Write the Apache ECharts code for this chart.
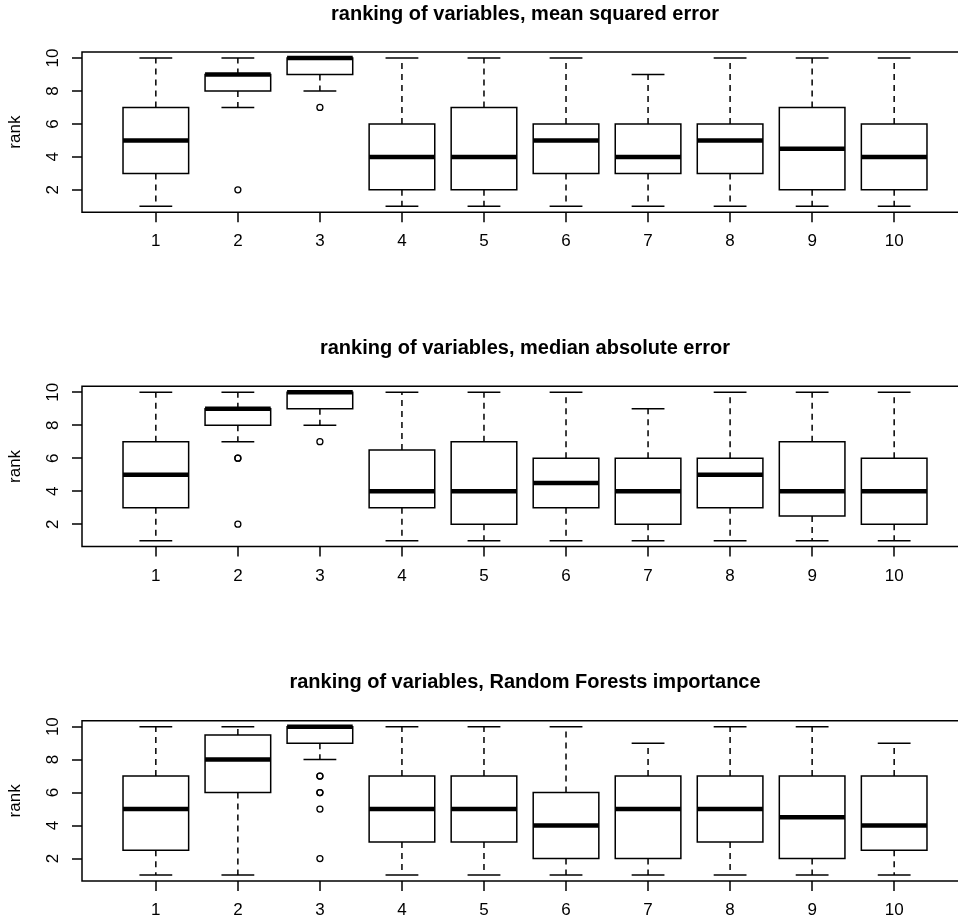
<!DOCTYPE html>
<html>
<head>
<meta charset="utf-8">
<script src="https://cdn.jsdelivr.net/npm/echarts@6/dist/echarts.min.js"></script>
<style>
html,body{margin:0;padding:0;background:#fff;}
#chart{width:958px;height:920px;}
</style>
</head>
<body>
<div id="chart"></div>
<script>
// ---- data ----
const categories = [1, 2, 3, 4, 5, 6, 7, 8, 9, 10];
const yTicks = [2, 4, 6, 8, 10];
const titles = [
  'ranking of variables, mean squared error',
  'ranking of variables, median absolute error',
  'ranking of variables, Random Forests importance'
];
// [min, q1, median, q3, max] for each variable
const mseStats = [
  [1, 3, 5, 7, 10], [7, 8, 9, 9, 10], [8, 9, 10, 10, 10], [1, 2, 4, 6, 10], [1, 2, 4, 7, 10],
  [1, 3, 5, 6, 10], [1, 3, 4, 6, 9], [1, 3, 5, 6, 10], [1, 2, 4.5, 7, 10], [1, 2, 4, 6, 10]
];
const mseOutliers = [[2, 2], [3, 7]];
const madStats = [
  [1, 3, 5, 7, 10], [7, 8, 9, 9, 10], [8, 9, 10, 10, 10], [1, 3, 4, 6.5, 10], [1, 2, 4, 7, 10],
  [1, 3, 4.5, 6, 10], [1, 2, 4, 6, 9], [1, 3, 5, 6, 10], [1, 2.5, 4, 7, 10], [1, 2, 4, 6, 10]
];
const madOutliers = [[2, 6], [2, 6], [2, 2], [3, 7]];
const rfStats = [
  [1, 2.5, 5, 7, 10], [1, 6, 8, 9.5, 10], [8, 9, 10, 10, 10], [1, 3, 5, 7, 10], [1, 3, 5, 7, 10],
  [1, 2, 4, 6, 10], [1, 2, 5, 7, 9], [1, 3, 5, 7, 10], [1, 2, 4.5, 7, 10], [1, 2.5, 4, 7, 9]
];
const rfOutliers = [[3, 7], [3, 7], [3, 6], [3, 6], [3, 5], [3, 2]];

const panels = [
  { stats: mseStats, outliers: mseOutliers },
  { stats: madStats, outliers: madOutliers },
  { stats: rfStats, outliers: rfOutliers }
];

// ---- layout ----
const FONT = 'Liberation Sans, Arial, Helvetica, sans-serif';
const gridTops = [52, 386.3, 720.7];
const gridH = 160.3;
const titleTops = [4, 338, 672];
const BOX_HALF = 0.4, CAP_HALF = 0.2;

function renderBox(params, api) {
  const x = api.value(0);
  const mn = api.value(1), q1 = api.value(2), md = api.value(3), q3 = api.value(4), mx = api.value(5);
  const L = api.coord([x - BOX_HALF, q1])[0];
  const R = api.coord([x + BOX_HALF, q1])[0];
  const cL = api.coord([x - CAP_HALF, q1])[0];
  const cR = api.coord([x + CAP_HALF, q1])[0];
  const cx = api.coord([x, q1])[0];
  const yMin = api.coord([x, mn])[1];
  const yQ1 = api.coord([x, q1])[1];
  const yMd = api.coord([x, md])[1];
  const yQ3 = api.coord([x, q3])[1];
  const yMax = api.coord([x, mx])[1];
  const line = { stroke: '#000', lineWidth: 1.5 };
  const dash = { stroke: '#000', lineWidth: 1.5, lineDash: [6, 5] };
  const children = [];
  if (mx > q3) children.push({ type: 'line', shape: { x1: cx, y1: yQ3, x2: cx, y2: yMax }, style: dash });
  if (mn < q1) children.push({ type: 'line', shape: { x1: cx, y1: yQ1, x2: cx, y2: yMin }, style: dash });
  children.push({ type: 'line', shape: { x1: cL, y1: yMax, x2: cR, y2: yMax }, style: line });
  children.push({ type: 'line', shape: { x1: cL, y1: yMin, x2: cR, y2: yMin }, style: line });
  children.push({ type: 'rect', shape: { x: L, y: yQ3, width: R - L, height: yQ1 - yQ3 }, style: { fill: '#fff', stroke: '#000', lineWidth: 1.5 } });
  children.push({ type: 'line', shape: { x1: L, y1: yMd, x2: R, y2: yMd }, style: { stroke: '#000', lineWidth: 4.5 } });
  return { type: 'group', children };
}

const grid = [], xAxis = [], yAxis = [], series = [], title = [];
panels.forEach((p, i) => {
  title.push({
    text: titles[i], left: 525, top: titleTops[i], textAlign: 'center', padding: 0,
    textStyle: { fontFamily: FONT, fontSize: 20, fontWeight: 'bold', color: '#000' }
  });
  grid.push({
    left: 82, top: gridTops[i], width: 886, height: gridH,
    outerBoundsMode: 'none', containLabel: false,
    show: true, borderColor: '#000', borderWidth: 1.5, backgroundColor: 'transparent'
  });
  xAxis.push({
    type: 'value', gridIndex: i, min: 0.1, max: 10.9,
    axisLine: { show: false },
    splitLine: { show: false },
    axisTick: { show: true, length: 10, lineStyle: { color: '#000', width: 1.5 }, customValues: categories },
    axisLabel: { show: true, margin: 21, fontSize: 17, fontFamily: FONT, color: '#000', customValues: categories }
  });
  yAxis.push({
    type: 'value', gridIndex: i, min: 0.64, max: 10.36,
    name: 'rank', nameLocation: 'middle', nameGap: 58, nameRotate: 90,
    nameTextStyle: { fontFamily: FONT, fontSize: 17, color: '#000' },
    axisLine: { show: false },
    splitLine: { show: false },
    axisTick: { show: true, length: 10, lineStyle: { color: '#000', width: 1.5 }, customValues: yTicks },
    axisLabel: { show: true, rotate: 90, margin: 20, fontSize: 17, fontFamily: FONT, color: '#000', customValues: yTicks }
  });
  series.push({
    type: 'custom', xAxisIndex: i, yAxisIndex: i,
    renderItem: renderBox,
    data: p.stats.map((s, k) => [categories[k]].concat(s)),
    silent: true, z: 2
  });
  series.push({
    type: 'scatter', xAxisIndex: i, yAxisIndex: i,
    symbol: 'circle', symbolSize: 6,
    itemStyle: { color: 'rgba(255,255,255,0)', borderColor: '#000', borderWidth: 1.3, opacity: 1 },
    data: p.outliers, silent: true, z: 3
  });
});

const chart = echarts.init(document.getElementById('chart'), null, { renderer: 'canvas' });
chart.setOption({ animation: false, backgroundColor: '#fff', title, grid, xAxis, yAxis, series });
</script>
</body>
</html>
